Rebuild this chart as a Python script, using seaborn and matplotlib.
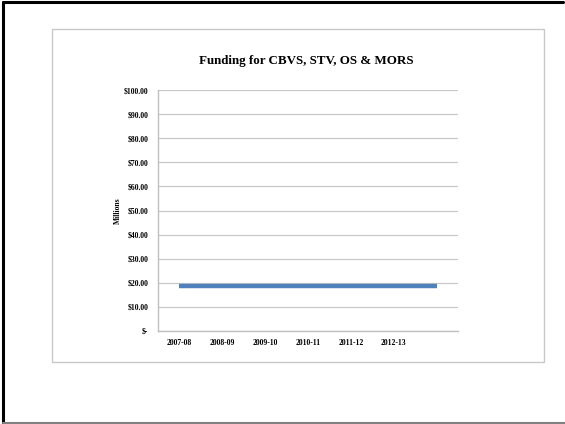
import matplotlib
matplotlib.use("Agg")
import matplotlib.pyplot as plt
import seaborn as sns
import pandas as pd
from matplotlib.patches import Rectangle
from matplotlib.lines import Line2D

years = ["2007-08", "2008-09", "2009-10", "2010-11", "2011-12", "2012-13", ""]
funding = [18.5, 18.5, 18.5, 18.5, 18.5, 18.5, 18.5]
y_ticks = [0, 10, 20, 30, 40, 50, 60, 70, 80, 90, 100]
y_tick_labels = ["$-", "$10.00", "$20.00", "$30.00", "$40.00", "$50.00",
                 "$60.00", "$70.00", "$80.00", "$90.00", "$100.00"]

sns.set_theme(style="white")
plt.rcParams['font.family'] = ['Liberation Serif', 'DejaVu Serif']
plt.rcParams['text.color'] = 'black'

fig = plt.figure(figsize=(5.65, 4.24), dpi=100)
fig.patch.set_facecolor("white")

# chart area border
fig.patches.append(Rectangle((52/565, 1-362/424), 492/565, 333/424,
                             transform=fig.transFigure, fill=False,
                             edgecolor="#c8c8c8", linewidth=1.0))
# outer page frame
fig.lines.append(Line2D([2.5/565, 2.5/565], [0, 1-2/424], transform=fig.transFigure,
                        color="black", linewidth=2.2))
fig.lines.append(Line2D([2.5/565, 563/565], [1-2/424, 1-2/424], transform=fig.transFigure,
                        color="black", linewidth=2.2))
fig.lines.append(Line2D([2.5/565, 1], [1-423/424, 1-423/424], transform=fig.transFigure,
                        color="#808080", linewidth=1.5))

ax = fig.add_axes([158/565, 1-331/424, 300/565, 241/424])
df = pd.DataFrame({"x": list(range(len(years))), "y": funding})
sns.lineplot(data=df, x="x", y="y", ax=ax, color="#4F81BD", linewidth=3.2,
             solid_capstyle="butt")

ax.set_xlim(-0.5, len(years) - 0.5)
ax.set_ylim(0, 100)
ax.set_yticks(y_ticks)
ax.set_yticklabels(y_tick_labels)
ax.set_xticks(range(len(years)))
ax.set_xticklabels(years)
ax.tick_params(axis="both", length=0, labelsize=5.5, colors="black")
ax.tick_params(axis="y", pad=7)
ax.tick_params(axis="x", pad=6)
for lab in ax.get_xticklabels() + ax.get_yticklabels():
    lab.set_fontweight("bold")

ax.yaxis.grid(True, color="#c8c8c8", linewidth=0.9)
ax.xaxis.grid(False)
for s in ["top", "right"]:
    ax.spines[s].set_visible(False)
for s in ["left", "bottom"]:
    ax.spines[s].set_color("#c0c0c0")
    ax.spines[s].set_linewidth(1.0)

ax.set_xlabel("")
ax.set_ylabel("Millions", fontsize=5.5, fontweight="bold", labelpad=1, color="black")

fig.text(306/565, 1-61/424, "Funding for CBVS, STV, OS & MORS",
         ha="center", va="center", fontsize=9.4, fontweight="bold", color="black")

fig.savefig("out.png", dpi=100)
